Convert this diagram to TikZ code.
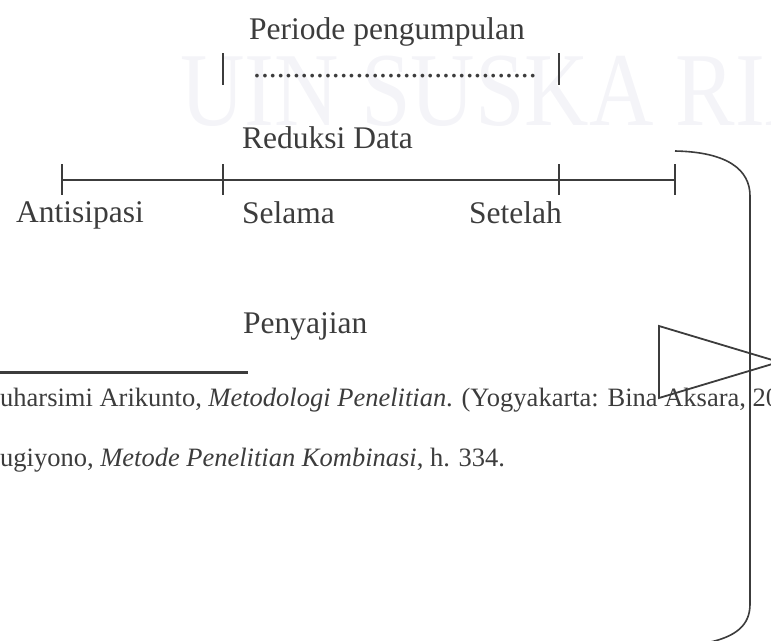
\documentclass[tikz,border=0pt]{standalone}
\usepackage{fontspec}
\setmainfont{Liberation Serif}
\definecolor{ink}{HTML}{3C3C3C}
\definecolor{wmark}{HTML}{F4F4F8}
\tikzset{
  lbl/.style={anchor=base west, inner sep=0pt, text=ink, font=\fontsize{31.5}{36}\selectfont},
  fnote/.style={anchor=base west, inner sep=0pt, text=ink, font=\fontsize{26.5}{32}\selectfont},
  tickmark/.style={draw=ink, line width=1.4pt},
  bracket/.style={draw=ink, line width=1.6pt}
}
\begin{document}
\begin{tikzpicture}[x=1pt, y=-1pt]
			\useasboundingbox (0,0) rectangle (771,640);
			\clip (0,0) rectangle (771,640);
			
			\node[anchor=base west, inner sep=0pt, text=wmark, font=\fontsize{105}{110}\selectfont, xscale=0.85] (watermark) at (180,125) {UIN SUSKA RIAU};
			
			\node[lbl] (periode) at (249,39) {Periode pengumpulan};
			\node[lbl] (titik) at (253,77) {....................................};
			\coordinate (u1) at (223,53); \coordinate (u2) at (559,53);
			\foreach \u in {u1,u2} \draw[tickmark] (\u) -- ++(0,32);
			
			\node[lbl] (reduksi) at (242,148) {Reduksi Data};
			\coordinate (t0) at (62,180);
			\coordinate (t1) at (223,180);
			\coordinate (t2) at (559,180);
			\coordinate (t3) at (675,180);
			\draw[ink, line width=1.9pt] (t0) -- (t3);
			\foreach \t in {t0,t1,t2,t3} \draw[tickmark] (\t) ++(0,-16) -- ++(0,31);
			
			\node[lbl] (antisipasi) at (16,222) {Antisipasi};
			\node[lbl] (selama) at (242,223) {Selama};
			\node[lbl] (setelah) at (469,223) {Setelah};
			
			\node[lbl] (penyajian) at (243,333) {Penyajian};
			
			\draw[ink, line width=3pt] (0,372) -- (248,372);
			\node[fnote] (fn1) at (0,406) {uharsimi Arikunto, \textit{Metodologi Penelitian}. (Yogyakarta: Bina Aksara, 20};
			\node[fnote] (fn2) at (0,466) {ugiyono, \textit{Metode Penelitian Kombinasi}, h. 334.};
			
			\coordinate (kurung1) at (675,151);
			\coordinate (kurung2) at (700,644);
			\draw[bracket] (kurung1) .. controls (728,152) and (750,170) .. (750,196) -- (750,604) .. controls (750,624) and (738,638) .. (kurung2);
			\draw[bracket, line width=1.8pt] (659,326) -- (779,362) -- (659,398) -- cycle;
		\end{tikzpicture}
\end{document}
